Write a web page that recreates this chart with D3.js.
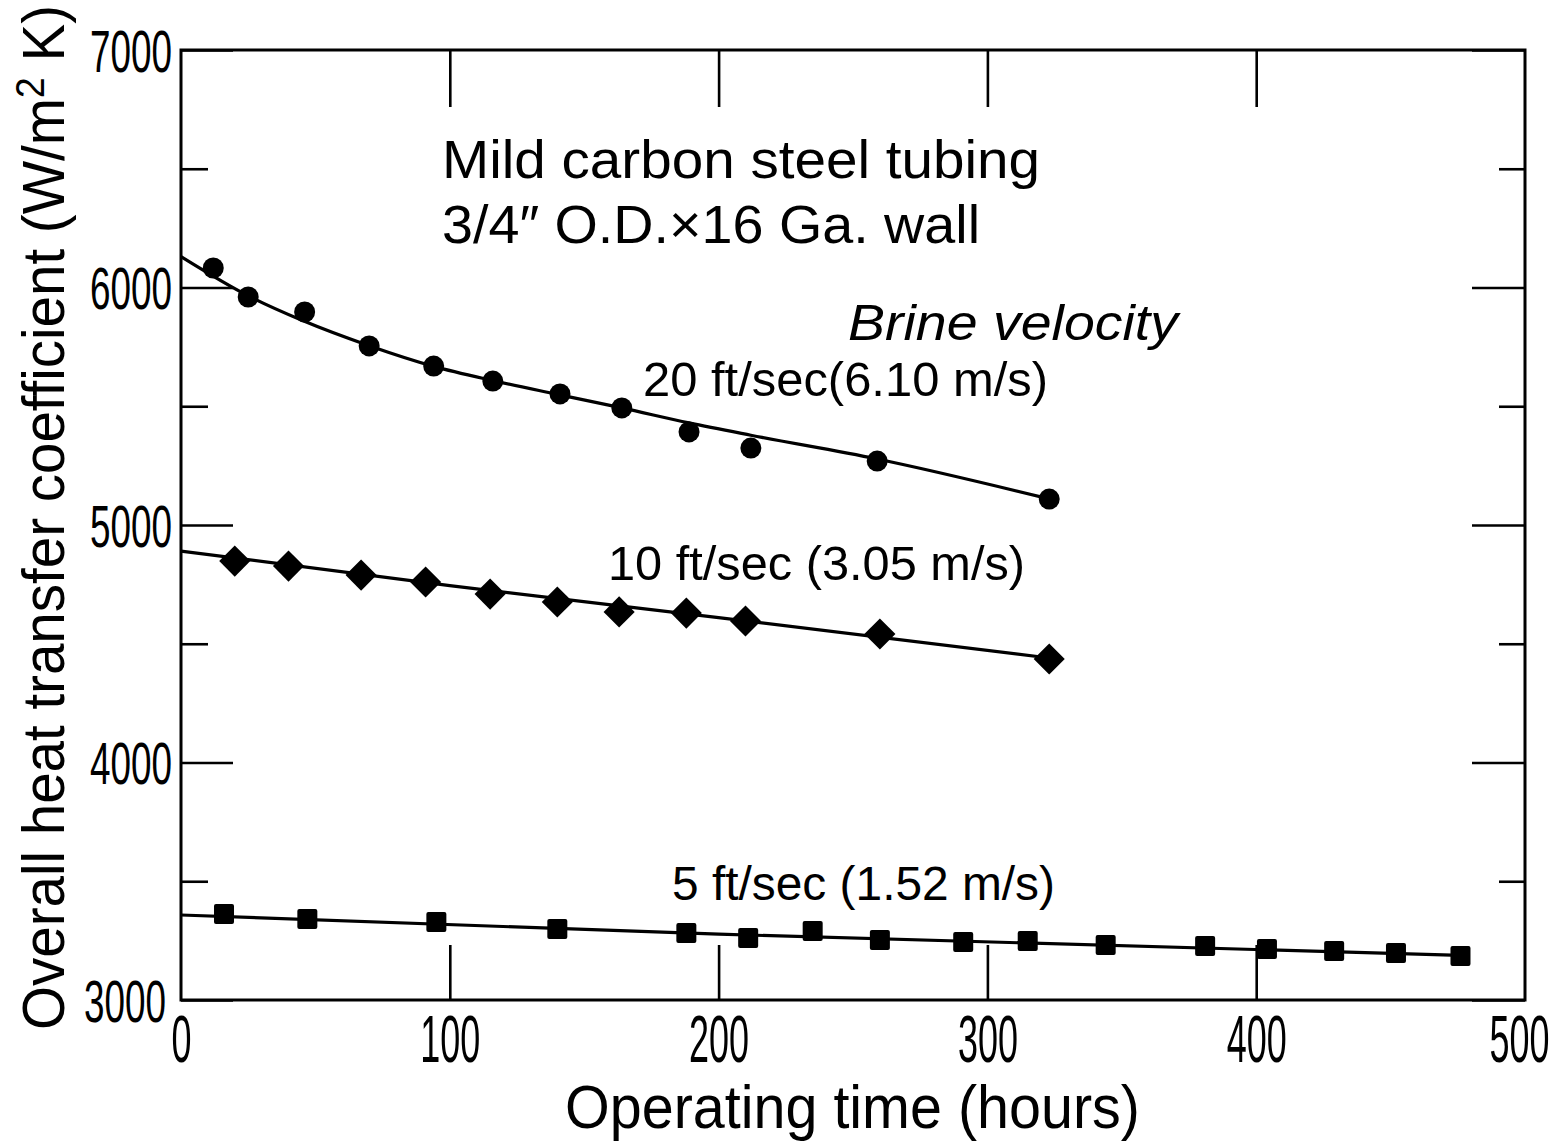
<!DOCTYPE html>
<html>
<head>
<meta charset="utf-8">
<script src="https://cdn.jsdelivr.net/npm/d3@7"></script>
<style>
  body { margin: 0; background: #fff; }
  svg text { font-family: "Liberation Sans", "DejaVu Sans", sans-serif; fill: #000; }
</style>
</head>
<body>
<svg id="chart" width="1566" height="1146"></svg>
<script>
// hours
const t20 = [12, 25, 46, 70, 94, 116, 141, 164, 189, 212, 259, 323];
const u20 = [6082, 5960, 5897, 5754, 5669, 5606, 5552, 5493, 5392, 5324, 5269, 5109];
const t10 = [20, 40, 67, 91, 115, 140, 163, 188, 210, 260, 323];
const u10 = [4848, 4827, 4789, 4760, 4709, 4676, 4634, 4629, 4596, 4541, 4436];
const t5 = [16, 47, 95, 140, 188, 211, 235, 260, 291, 315, 344, 381, 404, 429, 452, 476];
const u5 = [3362, 3341, 3328, 3299, 3282, 3261, 3291, 3253, 3244, 3248, 3232, 3227, 3215, 3206, 3198, 3185];

// hand-drawn fit curves
const fit20t = [0, 25, 45, 70, 94, 116, 140, 164, 189, 212, 259, 323];
const fit20u = [6130, 5965, 5862, 5755, 5668, 5608, 5550, 5493, 5430, 5378, 5278, 5110];
const fit10t = [0, 100, 200, 323];
const fit10u = [4890, 4745, 4610, 4440];
const fit5t = [0, 200, 476];
const fit5u = [3358, 3277, 3188];

const xTicks = [0, 100, 200, 300, 400, 500];
const yMajor = [3000, 4000, 5000, 6000, 7000];
const yMinor = [3500, 4500, 5500, 6500];

const svg = d3.select("#chart");
const x = d3.scaleLinear().domain([0, 500]).range([181, 1525]);
const y = d3.scaleLinear().domain([3000, 7000]).range([1000, 50]);

const zip = (a, b) => a.map((d, i) => [d, b[i]]);

// frame
svg.append("rect")
  .attr("x", x(0)).attr("y", y(7000))
  .attr("width", x(500) - x(0)).attr("height", y(3000) - y(7000))
  .attr("fill", "none").attr("stroke", "#000").attr("stroke-width", 3);

function ticks(axis, tx, ty) {
  const g = svg.append("g").attr("transform", "translate(" + tx + "," + ty + ")").call(axis);
  g.select(".domain").remove();
  g.selectAll(".tick line").attr("stroke", "#000").attr("stroke-width", 2.6);
  return g;
}

// left axis
const leftAxis = ticks(d3.axisLeft(y).tickValues(yMajor).tickFormat(d3.format("d"))
  .tickSizeInner(-52).tickSizeOuter(0), x(0), 0);
leftAxis.selectAll(".tick text")
  .attr("font-size", 60)
  .attr("x", d => d === 3000 ? -15 : -9)
  .attr("textLength", 82).attr("lengthAdjust", "spacingAndGlyphs")
  .attr("dy", "0.35em");
ticks(d3.axisLeft(y).tickValues(yMinor).tickSize(-27).tickFormat(""), x(0), 0);

// right axis
ticks(d3.axisRight(y).tickValues(yMajor).tickSize(-53).tickFormat(""), x(500), 0);
ticks(d3.axisRight(y).tickValues(yMinor).tickSize(-26).tickFormat(""), x(500), 0);

// bottom axis
const bottomAxis = ticks(d3.axisBottom(x).tickValues(xTicks).tickFormat(d3.format("d"))
  .tickSizeInner(-55).tickSizeOuter(0), 0, y(3000));
bottomAxis.selectAll(".tick line").filter(d => d === 0 || d === 500).remove();
bottomAxis.selectAll(".tick text")
  .attr("font-size", 66)
  .attr("textLength", d => d === 0 ? 20 : 60).attr("lengthAdjust", "spacingAndGlyphs")
  .attr("x", d => d === 500 ? -6 : 0)
  .attr("dy", "0")
  .attr("y", 62);

// top axis
ticks(d3.axisTop(x).tickValues(xTicks.slice(1, 5)).tickSize(-57).tickFormat(""), 0, y(7000));

// curves
const line = d3.line().x(d => x(d[0])).y(d => y(d[1])).curve(d3.curveMonotoneX);
[[fit20t, fit20u], [fit10t, fit10u], [fit5t, fit5u]].forEach(([a, b]) => {
  svg.append("path").datum(zip(a, b))
    .attr("d", line).attr("fill", "none").attr("stroke", "#000").attr("stroke-width", 3.2);
});

// markers
svg.append("g").selectAll("circle").data(zip(t20, u20)).join("circle")
  .attr("cx", d => x(d[0])).attr("cy", d => y(d[1])).attr("r", 10.5).attr("fill", "#000");

const diamond = d3.symbol().type(d3.symbolSquare).size(22 * 22);
svg.append("g").selectAll("path").data(zip(t10, u10)).join("path")
  .attr("d", diamond)
  .attr("transform", d => "translate(" + x(d[0]) + "," + y(d[1]) + ") rotate(45)")
  .attr("fill", "#000");

svg.append("g").selectAll("rect").data(zip(t5, u5)).join("rect")
  .attr("x", d => x(d[0]) - 10).attr("y", d => y(d[1]) - 10)
  .attr("width", 20).attr("height", 20).attr("rx", 2).attr("fill", "#000");

// annotations
function label(txt, xx, yy, size, len, italic) {
  return svg.append("text").attr("x", xx).attr("y", yy)
    .attr("font-size", size).attr("font-style", italic ? "italic" : "normal")
    .attr("textLength", len).attr("lengthAdjust", "spacingAndGlyphs")
    .text(txt);
}
label("Mild carbon steel tubing", 442, 178, 54, 598);
label("3/4\u2033 O.D.\u00d716  Ga. wall", 442, 243, 54, 538);
label("Brine velocity", 848, 340, 50, 330, true);
label("20 ft/sec(6.10 m/s)", 643, 396, 48, 405);
label("10 ft/sec (3.05 m/s)", 608, 580, 48, 417);
label("5 ft/sec (1.52 m/s)", 672, 900, 48, 383);

// axis titles
label("Operating time (hours)", 565, 1128, 62, 575);

const yl = svg.append("text")
  .attr("transform", "translate(64,1030) rotate(-90)")
  .attr("font-size", 60)
  .attr("textLength", 1025).attr("lengthAdjust", "spacingAndGlyphs");
yl.append("tspan").text("Overall heat transfer coefficient (W/m");
yl.append("tspan").attr("dy", -20).attr("font-size", 40).text("2");
yl.append("tspan").attr("dy", 20).text(" K)");
</script>
</body>
</html>
